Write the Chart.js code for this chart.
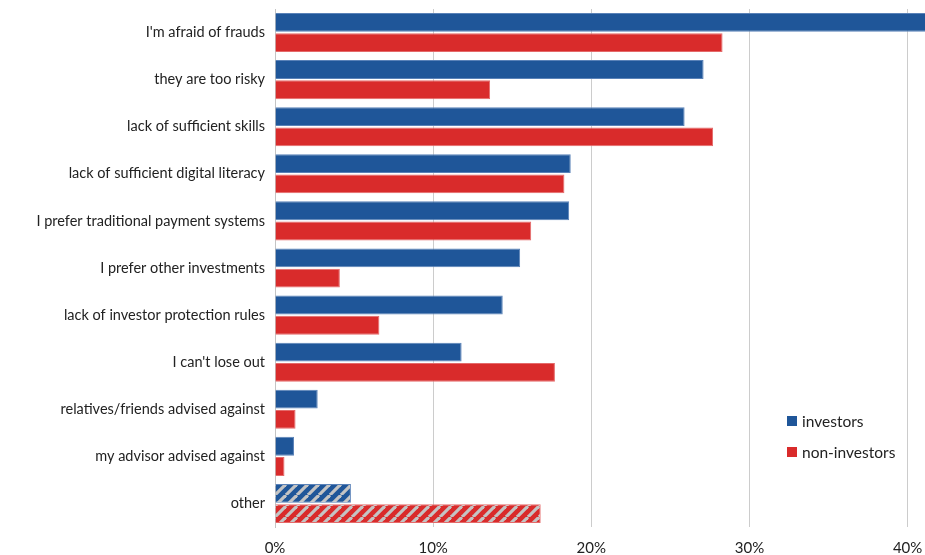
<!DOCTYPE html>
<html><head><meta charset="utf-8">
<script src="https://cdn.jsdelivr.net/npm/chart.js@4.4.1/dist/chart.umd.min.js"></script>
<style>html,body{margin:0;padding:0;background:#fff}#wrap{width:925px;height:555px}</style>
</head><body><div id="wrap"><canvas id="c" width="925" height="555"></canvas></div>
<script>
const categories = ["I'm afraid of frauds","they are too risky","lack of sufficient skills","lack of sufficient digital literacy","I prefer traditional payment systems","I prefer other investments","lack of investor protection rules","I can't lose out","relatives/friends advised against","my advisor advised against","other"];
const investors = [42.5,27.1,25.9,18.7,18.6,15.5,14.4,11.8,2.7,1.2,4.8];
const nonInvestors = [28.3,13.6,27.7,18.3,16.2,4.1,6.6,17.7,1.3,0.6,16.8];
const xTicks = [0,10,20,30,40];
const seriesNames = ["investors","non-investors"];
const BLUE = '#1f5699', RED = '#d92b2b';
const FONT = 'Lato';

function stripes(color){
  const s = 11;
  const c = document.createElement('canvas'); c.width = s; c.height = s;
  const g = c.getContext('2d');
  g.fillStyle = color; g.fillRect(0,0,s,s);
  g.strokeStyle = '#c4c4c4'; g.lineWidth = 3.2;
  for (let k=-s;k<=2*s;k+=s){ g.beginPath(); g.moveTo(k,s); g.lineTo(k+s,0); g.stroke(); }
  return g.createPattern(c,'repeat');
}
function colors(base){ return categories.map((c,i)=> i===categories.length-1 ? stripes(base) : base); }

const legendPlugin = {
  id:'customLegend',
  afterDraw(chart){
    const ctx = chart.ctx; ctx.save();
    ctx.font = '15.5px ' + FONT; ctx.textBaseline='middle';
    const items = [[seriesNames[0],BLUE,421],[seriesNames[1],RED,452]];
    items.forEach(([t,col,y])=>{ ctx.fillStyle=col; ctx.fillRect(787,y-5,10,10); ctx.fillStyle='#222'; ctx.fillText(t,802,y+1); });
    ctx.restore();
  }
};

new Chart(document.getElementById('c'), {
  type:'bar',
  data:{ labels:categories, datasets:[
    {label:seriesNames[0], data:investors, backgroundColor:colors(BLUE), borderColor:'#5a82b8', borderWidth:{top:1,bottom:1,right:1,left:0}, borderSkipped:'start', categoryPercentage:0.86, barPercentage:0.93},
    {label:seriesNames[1], data:nonInvestors, backgroundColor:colors(RED), borderColor:'#e46a6a', borderWidth:{top:1,bottom:1,right:1,left:0}, borderSkipped:'start', categoryPercentage:0.86, barPercentage:0.93}
  ]},
  options:{
    indexAxis:'y', responsive:false, animation:false,
    layout:{padding:{top:9,right:0,bottom:0,left:0}},
    plugins:{legend:{display:false}, tooltip:{enabled:false}},
    scales:{
      x:{ min:0, max:41.1, afterBuildTicks(s){ s.ticks = xTicks.map(v=>({value:v})); },
          ticks:{ includeBounds:false, callback:v=>v+'%', color:'#222', font:{family:FONT, size:15}, padding:12, maxRotation:0 },
          grid:{ color:'#cccccc', drawTicks:false, lineWidth:1 }, border:{display:false},
          afterFit(s){ s.height = 28; s.paddingLeft = 0; s.paddingRight = 0; } },
      y:{ ticks:{ color:'#222', font:{family:FONT, size:14.5}, padding:10, autoSkip:false },
          grid:{display:false, drawTicks:false, tickLength:0}, border:{display:true, color:'#c4c4c4'},
          afterFit(s){ s.width = 275; s.paddingTop = 0; s.paddingBottom = 0; } }
    }
  },
  plugins:[legendPlugin]
});
</script></body></html>
